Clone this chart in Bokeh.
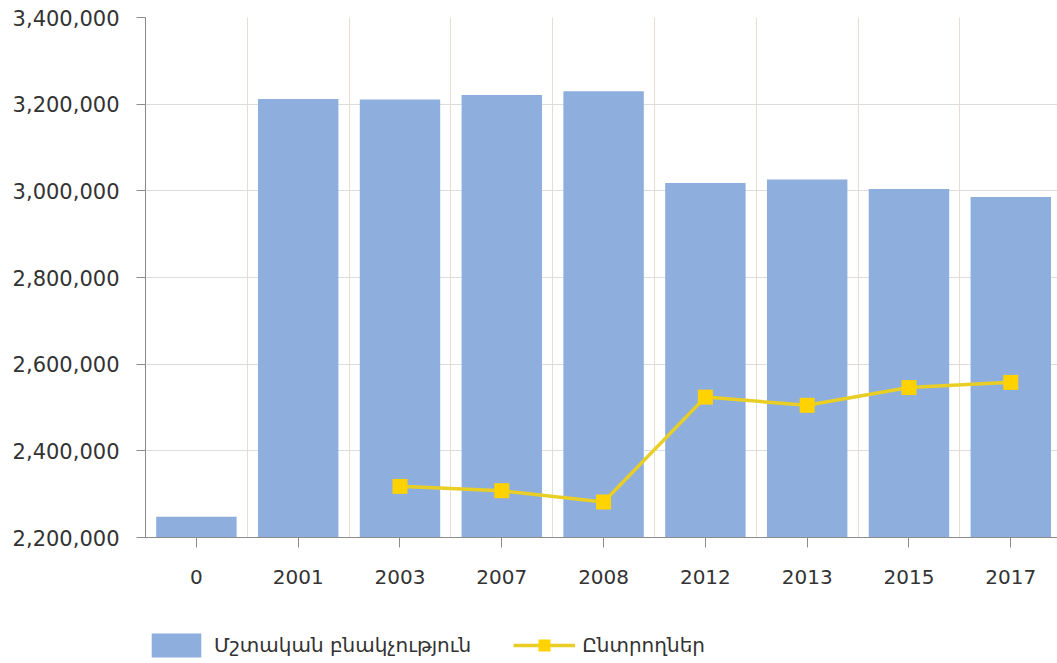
from bokeh.plotting import figure
from bokeh.layouts import column
from bokeh.models import (Range1d, FixedTicker, NumeralTickFormatter, Legend,
                          LegendItem, ColumnDataSource)
from bokeh.embed import file_html
from bokeh.resources import INLINE

# Census / register years and the permanent population for each
categories = ["0", "2001", "2003", "2007", "2008", "2012", "2013", "2015", "2017"]
population = [2248000, 3212000, 3211000, 3221000, 3230000, 3018000, 3026000, 3004000, 2986000]

# Registered voters, only for election years
voter_years = ["2003", "2007", "2008", "2012", "2013", "2015", "2017"]
voters = [2318000, 2308000, 2282000, 2524000, 2505000, 2546000, 2558000]

y_ticks = [2200000, 2400000, 2600000, 2800000, 3000000, 3200000, 3400000]

pop_label = "Մշտական բնակչություն"
voter_label = "Ընտրողներ"

FONT = "DejaVu Sans"
TEXT = "#333333"
BAR = "#8eaede"
LINE = "#e9cf25"
MARK = "#ffd200"

W = 1057
MAIN_H = 600
LEG_H = 63

pos = {c: i for i, c in enumerate(categories)}
bars_src = ColumnDataSource(dict(x=[pos[c] for c in categories], top=population))
line_src = ColumnDataSource(dict(x=[pos[c] for c in voter_years], y=voters))


def add_series(fig, visible=True):
    b = fig.vbar(x="x", top="top", bottom=y_ticks[0], width=0.79, source=bars_src,
                 fill_color=BAR, line_color=None, visible=visible)
    ln = fig.line(x="x", y="y", source=line_src, line_color=LINE, line_width=3.5,
                  visible=visible)
    mk = fig.scatter(x="x", y="y", source=line_src, marker="square", size=15,
                     fill_color=MARK, line_color=None, visible=visible)
    return b, ln, mk


p = figure(width=W, height=MAIN_H, output_backend="svg", toolbar_location=None,
           x_range=Range1d(-0.5, 8.459), y_range=Range1d(y_ticks[0], y_ticks[-1]),
           min_border_left=145, min_border_right=0, min_border_top=17,
           min_border_bottom=MAIN_H - 537)
p.outline_line_color = None
p.background_fill_color = "white"
add_series(p)

# x axis: ticks at category centres, grid at category boundaries
p.xaxis.ticker = FixedTicker(ticks=list(range(len(categories))))
p.xaxis.major_label_overrides = {i: c for i, c in enumerate(categories)}
p.xgrid.ticker = FixedTicker(ticks=[i + 0.5 for i in range(len(categories) - 1)])
p.xgrid.grid_line_color = "#e6ddd6"
p.xaxis.minor_tick_line_color = None
p.xaxis.major_tick_in = 0
p.xaxis.major_tick_out = 10
p.xaxis.major_label_standoff = 22

p.yaxis.ticker = FixedTicker(ticks=y_ticks)
p.yaxis.formatter = NumeralTickFormatter(format="0,0")
p.ygrid.grid_line_color = "#dcdcdc"
p.yaxis.minor_tick_line_color = None
p.yaxis.major_tick_in = 0
p.yaxis.major_tick_out = 9
p.yaxis.major_label_standoff = 17

for ax in (p.xaxis, p.yaxis):
    ax.axis_line_color = "#8c8c8c"
    ax.major_tick_line_color = "#8c8c8c"
    ax.major_label_text_font = FONT
    ax.major_label_text_color = TEXT
p.xaxis.major_label_text_font_size = "20px"
p.yaxis.major_label_text_font_size = "21px"

# Legend strip underneath the chart; its own (hidden) copies of the series
# supply the swatches
leg = figure(width=W, height=LEG_H, output_backend="svg", toolbar_location=None,
             x_range=Range1d(0, 1), y_range=Range1d(0, 1),
             min_border=0, min_border_left=0, min_border_right=0,
             min_border_top=0, min_border_bottom=0)
leg.axis.visible = False
leg.grid.visible = False
leg.outline_line_color = None
r_bar, r_line, r_mark = add_series(leg, visible=False)

legend = Legend(items=[LegendItem(label=pop_label, renderers=[r_bar]),
                       LegendItem(label=voter_label, renderers=[r_line, r_mark])],
                location=(0, 3), orientation="horizontal",
                glyph_width=62, glyph_height=30, spacing=42, padding=0, margin=0,
                label_standoff=7, label_text_font=FONT, label_text_font_size="20px",
                label_text_color=TEXT, border_line_color=None,
                background_fill_alpha=0, inactive_fill_alpha=0)
leg.add_layout(legend, "center")

open("out.html", "w").write(file_html(column(p, leg, spacing=0), INLINE))
